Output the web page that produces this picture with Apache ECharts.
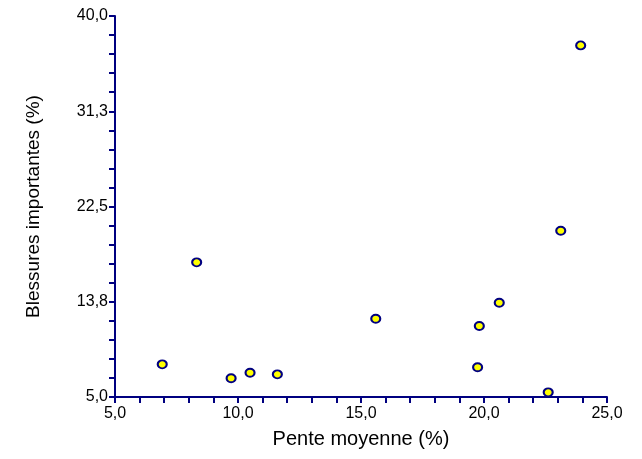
<!DOCTYPE html>
<html>
<head>
<meta charset="utf-8">
<script src="https://cdn.jsdelivr.net/npm/echarts@6/dist/echarts.min.js"></script>
<style>
  html, body { margin: 0; padding: 0; background: #fff; }
  #chart { width: 642px; height: 459px; }
</style>
</head>
<body>
<div id="chart"></div>
<script>
// pente moyenne (%) / blessures importantes (%)
var pente = [6.92, 9.72, 10.49, 11.6, 8.32, 15.6, 19.81, 20.62, 19.74, 22.61, 23.12, 23.93]
var blessures = [8.0, 6.72, 7.23, 7.08, 17.37, 12.19, 11.52, 13.66, 7.73, 5.43, 20.27, 37.3]

var xTicks = [5, 10, 15, 20, 25]
var yTicks = [5, 13.75, 22.5, 31.25, 40]

var navy = '#000080'
var points = pente.map(function (v, i) {
  return [v, blessures[i]]
})

function virgule(v) {
  return v.toFixed(1).replace('.', ',')
}

var myChart = echarts.init(document.getElementById('chart'))

myChart.setOption({
  animation: false,
  grid: {
    left: 115,
    right: 35,
    top: 16,
    bottom: 62
  },
  xAxis: {
    type: 'value',
    min: xTicks[0],
    max: xTicks[xTicks.length - 1],
    interval: 5,
    name: 'Pente moyenne (%)',
    nameLocation: 'middle',
    nameGap: 32,
    nameTextStyle: { color: '#000', fontSize: 20, fontFamily: 'Liberation Sans' },
    axisLine: { lineStyle: { color: navy, width: 2 } },
    axisTick: { show: true, length: 6, lineStyle: { color: navy, width: 2 } },
    minorTick: { show: true, splitNumber: 5, length: 6, lineStyle: { color: navy, width: 2 } },
    splitLine: { show: false },
    axisLabel: {
      color: '#000',
      fontSize: 16,
      fontFamily: 'Liberation Sans',
      margin: 9,
      formatter: virgule
    }
  },
  yAxis: {
    type: 'value',
    min: yTicks[0],
    max: yTicks[yTicks.length - 1],
    interval: 8.75,
    name: 'Blessures importantes (%)',
    nameLocation: 'middle',
    nameGap: 72,
    nameTextStyle: { color: '#000', fontSize: 19, fontFamily: 'Liberation Sans' },
    axisLine: { show: true, lineStyle: { color: navy, width: 2 } },
    axisTick: { show: true, length: 6, lineStyle: { color: navy, width: 2 } },
    minorTick: { show: true, splitNumber: 5, length: 6, lineStyle: { color: navy, width: 2 } },
    splitLine: { show: false },
    axisLabel: {
      color: '#000',
      fontSize: 16,
      fontFamily: 'Liberation Sans',
      margin: 7,
      formatter: virgule
    }
  },
  series: [
    {
      type: 'scatter',
      data: points,
      symbol: 'circle',
      symbolSize: [9, 8],
      itemStyle: {
        color: '#ffff00',
        borderColor: navy,
        borderWidth: 2,
        opacity: 1
      }
    }
  ]
})
</script>
</body>
</html>
